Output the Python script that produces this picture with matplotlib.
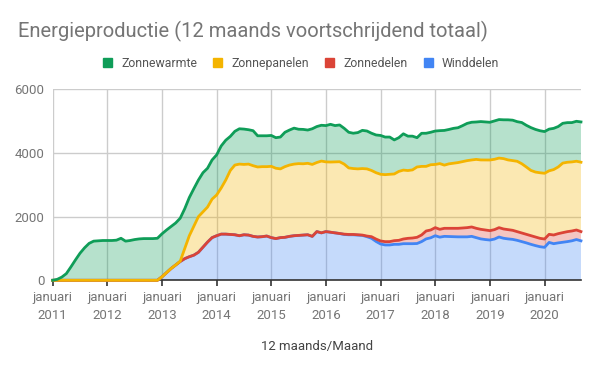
import numpy as np
import matplotlib
matplotlib.use("Agg")
import matplotlib.pyplot as plt
from matplotlib.patches import Patch

plt.rcParams['font.family'] = ['Roboto', 'DejaVu Sans']

# 12-month rolling totals, monthly from januari 2011 to september 2020
winddelen = [0] * 24 + [
    110, 240, 370, 480, 590, 680, 740, 790, 880, 1040,
    1200, 1340, 1400, 1450, 1450, 1440, 1430, 1400, 1430, 1420,
    1380, 1360, 1370, 1390, 1340, 1310, 1340, 1350, 1380, 1400,
    1410, 1420, 1430, 1380, 1530, 1490, 1530, 1510, 1490, 1470,
    1440, 1430, 1430, 1420, 1410, 1370, 1320, 1220, 1140, 1110,
    1110, 1130, 1130, 1150, 1150, 1150, 1155, 1215, 1300, 1335,
    1400, 1355, 1380, 1375, 1370, 1365, 1365, 1365, 1380, 1340,
    1300, 1280, 1265, 1295, 1360, 1320, 1300, 1285, 1255, 1215,
    1175, 1130, 1090, 1055, 1035, 1190, 1150, 1175, 1195, 1215,
    1240, 1280, 1240]

zonnedelen = [0] * 64 + [
    10, 10, 10, 10, 10, 20, 50, 75, 95, 104,
    105, 115, 125, 147, 168, 178, 195, 208, 249, 245,
    254, 246, 253, 258, 263, 268, 278, 289, 295, 293,
    301, 300, 294, 296, 294, 292, 291, 285, 273, 271,
    269, 272, 270, 263, 262, 254, 273, 290, 302, 313,
    309, 300, 290]

zonnepanelen = [0] * 28 + [
    10, 320, 660, 910, 1120, 1110, 1100, 1210, 1280, 1450,
    1700, 2010, 2190, 2250, 2210, 2230, 2220, 2200, 2200, 2180,
    2240, 2210, 2160, 2220, 2240, 2250, 2255, 2240, 2245, 2260,
    2170, 2255, 2190, 2205, 2230, 2255, 2200, 2090, 2070, 2070,
    2090, 2110, 2080, 2085, 2095, 2105, 2115, 2095, 2165, 2165,
    2130, 2140, 2210, 2155, 2030, 2050, 1985, 2065, 1985, 2025,
    2045, 2065, 2085, 2105, 2105, 2165, 2180, 2200, 2220, 2210,
    2185, 2210, 2190, 2190, 2210, 2175, 2115, 2050, 2040, 2060,
    2065, 1995, 2055, 2095, 2185, 2180, 2170, 2160, 2180]

zonnewarmte = [
    0, 30, 100, 210, 420, 640, 850, 1020, 1160, 1230,
    1240, 1250, 1250, 1250, 1260, 1320, 1230, 1250, 1280, 1300,
    1310, 1310, 1310, 1320, 1350, 1340, 1320, 1320, 1350, 1250,
    1200, 1180, 1150, 1230, 1220, 1230, 1260, 1320, 1250, 1070,
    1060, 1110, 1110, 1080, 1100, 980, 970, 970, 970, 960,
    1000, 1080, 1100, 1130, 1080, 1080, 1045, 1120, 1130, 1125,
    1140, 1185, 1140, 1155, 1125, 1120, 1110, 1140, 1200, 1190,
    1170, 1185, 1220, 1180, 1170, 1070, 1060, 1140, 1080, 1060,
    920, 1040, 1040, 1020, 1050, 1035, 1090, 1080, 1095, 1095,
    1130, 1170, 1185, 1175, 1205, 1195, 1185, 1205, 1210, 1220,
    1260, 1270, 1245, 1295, 1310, 1345, 1340, 1320, 1310, 1310,
    1295, 1270, 1250, 1245, 1235, 1255, 1265]

series = ["Winddelen", "Zonnedelen", "Zonnepanelen", "Zonnewarmte"]
colors = ["#4285f4", "#db4437", "#f4b400", "#0f9d58"]
years = list(range(2011, 2021))

months = np.arange(len(zonnewarmte))
data = np.array([winddelen, zonnedelen, zonnepanelen, zonnewarmte], dtype=float)

fig = plt.figure(figsize=(6, 3.71), dpi=100)
ax = fig.add_axes([0.0878, 0.2445, 0.8805, 0.5148])

ax.stackplot(months, data, colors=colors, alpha=0.3, linewidth=0, zorder=2)
tops = np.cumsum(data, axis=0)
for top, c in zip(tops, colors):
    ax.plot(months, top, color=c, lw=2, zorder=3, clip_on=False,
            solid_joinstyle='round')

ax.set_xlim(0, months[-1])
ax.set_ylim(0, 6000)
ax.set_yticks([0, 2000, 4000, 6000])
ax.set_xticks([12 * i for i in range(len(years))])
ax.set_xticklabels([f"januari\n{y}" for y in years])

ax.grid(True, color="#cccccc", lw=1, zorder=0)
ax.set_axisbelow(True)
for s in ["top", "right", "left"]:
    ax.spines[s].set_visible(False)
ax.spines["bottom"].set_color("#333333")
ax.spines["bottom"].set_linewidth(1.2)
ax.spines["bottom"].set_zorder(2.5)
ax.tick_params(axis="y", length=0, labelsize=9.5, labelcolor="#757575", pad=6)
ax.tick_params(axis="x", length=4, width=1.2, color="#333333", labelsize=9.5,
               labelcolor="#757575", pad=4)
for lab in ax.get_xticklabels():
    lab.set_linespacing(1.45)

ax.set_xlabel("12 maands/Maand", fontsize=9.5, color="#444444", labelpad=13)

fig.text(0.03, 0.915, "Energieproductie (12 maands voortschrijdend totaal)",
         fontsize=14.5, color="#757575", va="center", ha="left")

handles = [Patch(facecolor=c, edgecolor=c) for c in colors[::-1]]
fig.legend(handles, series[::-1], loc="center", bbox_to_anchor=(0.502, 0.83),
           ncol=4, frameon=False, fontsize=8.8, labelcolor="#555555",
           handlelength=0.75, handleheight=0.75, handletextpad=0.75,
           columnspacing=1.3)

fig.savefig("out.png", dpi=100)
